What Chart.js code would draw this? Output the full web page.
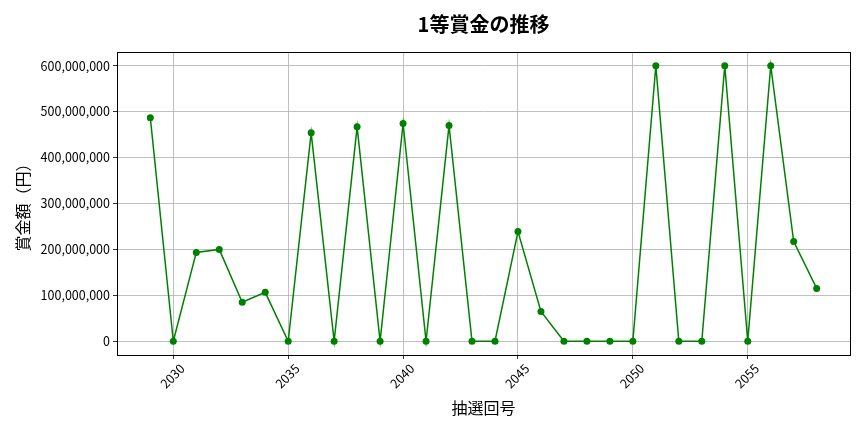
<!DOCTYPE html>
<html lang="ja">
<head>
<meta charset="utf-8">
<title>1等賞金の推移</title>
<script src="https://cdn.jsdelivr.net/npm/chart.js@4/dist/chart.umd.min.js"></script>
<style>
    html, body {
        margin: 0;
        padding: 0;
        background: #ffffff;
    }
    #wrap {
        width: 864px;
        height: 432px;
    }
</style>
</head>
<body>
<div id="wrap">
    <canvas id="prizeChart"></canvas>
</div>
<script>

const drawNumbers = [
    2029, 2030, 2031, 2032, 2033, 2034, 2035, 2036, 2037, 2038,
    2039, 2040, 2041, 2042, 2043, 2044, 2045, 2046, 2047, 2048,
    2049, 2050, 2051, 2052, 2053, 2054, 2055, 2056, 2057, 2058
];

const prizeValues = [
    487000000, 0, 193500000, 200000000, 85000000, 106500000, 0, 454000000, 0, 467000000,
    0, 474000000, 0, 470000000, 0, 0, 239000000, 65000000, 0, 0,
    0, 0, 600000000, 0, 0, 600000000, 0, 600000000, 217000000, 115000000
];

const xTickValues = [2030, 2035, 2040, 2045, 2050, 2055];

const yTickValues = [
    0, 100000000, 200000000, 300000000,
    400000000, 500000000, 600000000
];

const chartTitle = "1等賞金の推移";
const xTitle = "抽選回号";
const yTitle = "賞金額（円）";

document.addEventListener("DOMContentLoaded", () => {

    Chart.defaults.font.family =
        "'Noto Sans CJK JP', 'Noto Sans', sans-serif";

    Chart.defaults.color = "#000000";

    const points =
        drawNumbers.map((n, i) => ({ x: n, y: prizeValues[i] }));

    // matplotlib-style box around the plot area
    const framePlugin = {
        id: "frame",
        afterDraw(chart) {
            const { ctx, chartArea: a } = chart;
            ctx.save();
            ctx.strokeStyle = "#000000";
            ctx.lineWidth = 1;
            ctx.strokeRect(
                Math.round(a.left) + 0.5,
                Math.round(a.top) + 0.5,
                Math.round(a.right - a.left),
                Math.round(a.bottom - a.top)
            );
            ctx.restore();
        }
    };

    new Chart(document.getElementById("prizeChart"), {

        type: "line",

        data: {
            datasets: [{
                data: points,
                borderColor: "#008000",
                backgroundColor: "#008000",
                borderWidth: 1.5,
                pointRadius: 3.5,
                pointHoverRadius: 3.5,
                pointBorderWidth: 0,
                tension: 0,
                fill: false
            }]
        },

        options: {
            responsive: true,
            maintainAspectRatio: false,
            animation: false,
            layout: {
                padding: { left: 10, right: 14, top: 0, bottom: 0 }
            },
            plugins: {
                legend: { display: false },
                tooltip: { enabled: false },
                title: {
                    display: true,
                    fullSize: false,   // centre over the plot, not the canvas
                    text: chartTitle,
                    font: { size: 20, weight: "bold", lineHeight: 1.2 },
                    padding: { top: 12, bottom: 16 }
                }
            },
            scales: {
                x: {
                    type: "linear",
                    min: 2027.55,
                    max: 2059.45,
                    afterBuildTicks: (scale) => {
                        scale.ticks = xTickValues.map(v => ({ value: v }));
                    },
                    afterFit: (scale) => {
                        scale.height = 77;
                    },
                    ticks: {
                        minRotation: 45,
                        maxRotation: 45,
                        padding: 2,
                        labelOffset: 9,
                        font: { size: 12.5 },
                        callback: (v) => String(v)
                    },
                    grid: {
                        color: "#b0b0b0",
                        lineWidth: 0.8,
                        drawTicks: true,
                        tickLength: 4,
                        tickColor: "#000000"
                    },
                    border: { display: false },
                    title: {
                        display: true,
                        text: xTitle,
                        font: { size: 16, lineHeight: 1.2 },
                        padding: { top: 4, bottom: 14 }
                    }
                },
                y: {
                    type: "linear",
                    min: -30000000,
                    max: 630000000,
                    afterBuildTicks: (scale) => {
                        scale.ticks = yTickValues.map(v => ({ value: v }));
                    },
                    afterFit: (scale) => {
                        scale.width = 107;
                    },
                    ticks: {
                        padding: 3,
                        font: { size: 12.5 },
                        callback: (v) => v.toLocaleString("en-US")
                    },
                    grid: {
                        color: "#b0b0b0",
                        lineWidth: 0.8,
                        drawTicks: true,
                        tickLength: 4,
                        tickColor: "#000000"
                    },
                    border: { display: false },
                    title: {
                        display: true,
                        text: yTitle,
                        font: { size: 16, lineHeight: 1.2 },
                        padding: { top: 3, bottom: 4 }
                    }
                }
            }
        },

        plugins: [framePlugin]

    });

});
</script>
</body>
</html>
